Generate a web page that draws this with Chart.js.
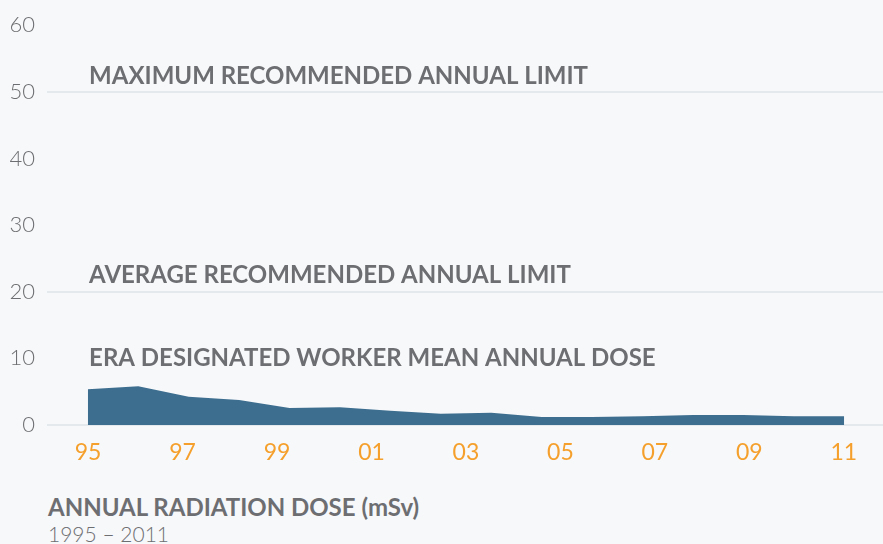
<!DOCTYPE html>
<html>
<head>
<meta charset="utf-8">
<script src="https://cdn.jsdelivr.net/npm/chart.js@4"></script>
<style>
    html, body { margin: 0; padding: 0; background: #f7f8fa; }
    body { width: 883px; height: 544px; overflow: hidden; font-family: Lato, 'Open Sans', sans-serif; color: #6d6e71; }
    .chart-box { position: relative; width: 883px; height: 480px; }
    .caption { position: absolute; left: 48px; top: 493px; line-height: 27px; }
    .caption b { display: block; font-weight: 700; font-size: 24px; }
    .caption span { font-weight: 300; font-size: 21px; }
</style>
</head>
<body>
<div class="chart-box"><canvas id="dose"></canvas></div>
<div class="caption"><b>ANNUAL RADIATION DOSE (mSv)</b><span>1995 – 2011</span></div>
<script>
const sampleYears = [1995, 1996, 1997, 1998, 1999, 2000, 2001, 2002, 2003, 2004, 2005, 2006, 2007, 2008, 2009, 2010];
const meanDose = [5.35, 5.8, 4.25, 3.75, 2.55, 2.65, 2.15, 1.7, 1.85, 1.2, 1.2, 1.3, 1.5, 1.5, 1.3, 1.3];
const tickYears = [1995, 1997, 1999, 2001, 2003, 2005, 2007, 2009, 2011];
const doseTicks = [0, 10, 20, 30, 40, 50, 60];
const limitLines = [0, 20, 50];
const notes = [
    { text: 'MAXIMUM RECOMMENDED ANNUAL LIMIT', value: 52.3 },
    { text: 'AVERAGE RECOMMENDED ANNUAL LIMIT', value: 22.5 },
    { text: 'ERA DESIGNATED WORKER MEAN ANNUAL DOSE', value: 10 },
];

const grey = '#6d6e71';

// textos de las líneas de referencia
const notesPlugin = {
    id: 'notes',
    afterDatasetsDraw(chart) {
        const { ctx, scales } = chart;
        ctx.save();
        ctx.font = '700 24px Lato, "Open Sans", sans-serif';
        ctx.fillStyle = grey;
        ctx.textBaseline = 'middle';
        ctx.textAlign = 'left';
        const left = scales.x.getPixelForValue(tickYears[0]) + 1;
        notes.forEach((n) => ctx.fillText(n.text, left, scales.y.getPixelForValue(n.value)));
        ctx.restore();
    },
};

new Chart(document.getElementById('dose'), {
    type: 'line',
    data: {
        datasets: [
            {
                data: sampleYears.map((year, i) => ({ x: year, y: meanDose[i] })),
                xAxisID: 'xd',
                fill: 'origin',
                backgroundColor: '#3d6e8f',
                borderWidth: 0,
                pointRadius: 0,
                tension: 0,
            },
        ],
    },
    options: {
        responsive: true,
        maintainAspectRatio: false,
        animation: false,
        layout: { padding: { top: 23, right: 0, left: 0, bottom: 0 } },
        plugins: {
            legend: { display: false },
            tooltip: { enabled: false },
        },
        scales: {
            xd: {
                type: 'linear',
                display: false,
                min: 1994.19,
                max: 2010.77,
            },
            x: {
                type: 'linear',
                position: 'bottom',
                min: 1994.13,
                max: 2011.83,
                afterBuildTicks: (axis) => {
                    axis.ticks = tickYears.map((v) => ({ value: v }));
                },
                afterFit: (axis) => {
                    axis.height = 55;
                },
                grid: { display: false },
                border: { display: false },
                ticks: {
                    color: '#f5a02c',
                    padding: 6,
                    maxRotation: 0,
                    autoSkip: false,
                    font: { family: 'Lato', size: 23, weight: 400 },
                    callback: (value) => String(value % 100).padStart(2, '0'),
                },
            },
            y: {
                min: 0,
                max: 60,
                afterBuildTicks: (axis) => {
                    axis.ticks = doseTicks.map((v) => ({ value: v }));
                },
                afterFit: (axis) => {
                    axis.width = 47;
                },
                grid: {
                    drawTicks: false,
                    lineWidth: 2,
                    color: (ctx) => (limitLines.includes(ctx.tick?.value) ? '#e4e9ee' : 'rgba(0,0,0,0)'),
                },
                border: { display: false },
                ticks: {
                    color: grey,
                    padding: 12,
                    font: { family: 'Lato', size: 22, weight: 300 },
                },
            },
        },
    },
    plugins: [notesPlugin],
});
</script>
</body>
</html>
